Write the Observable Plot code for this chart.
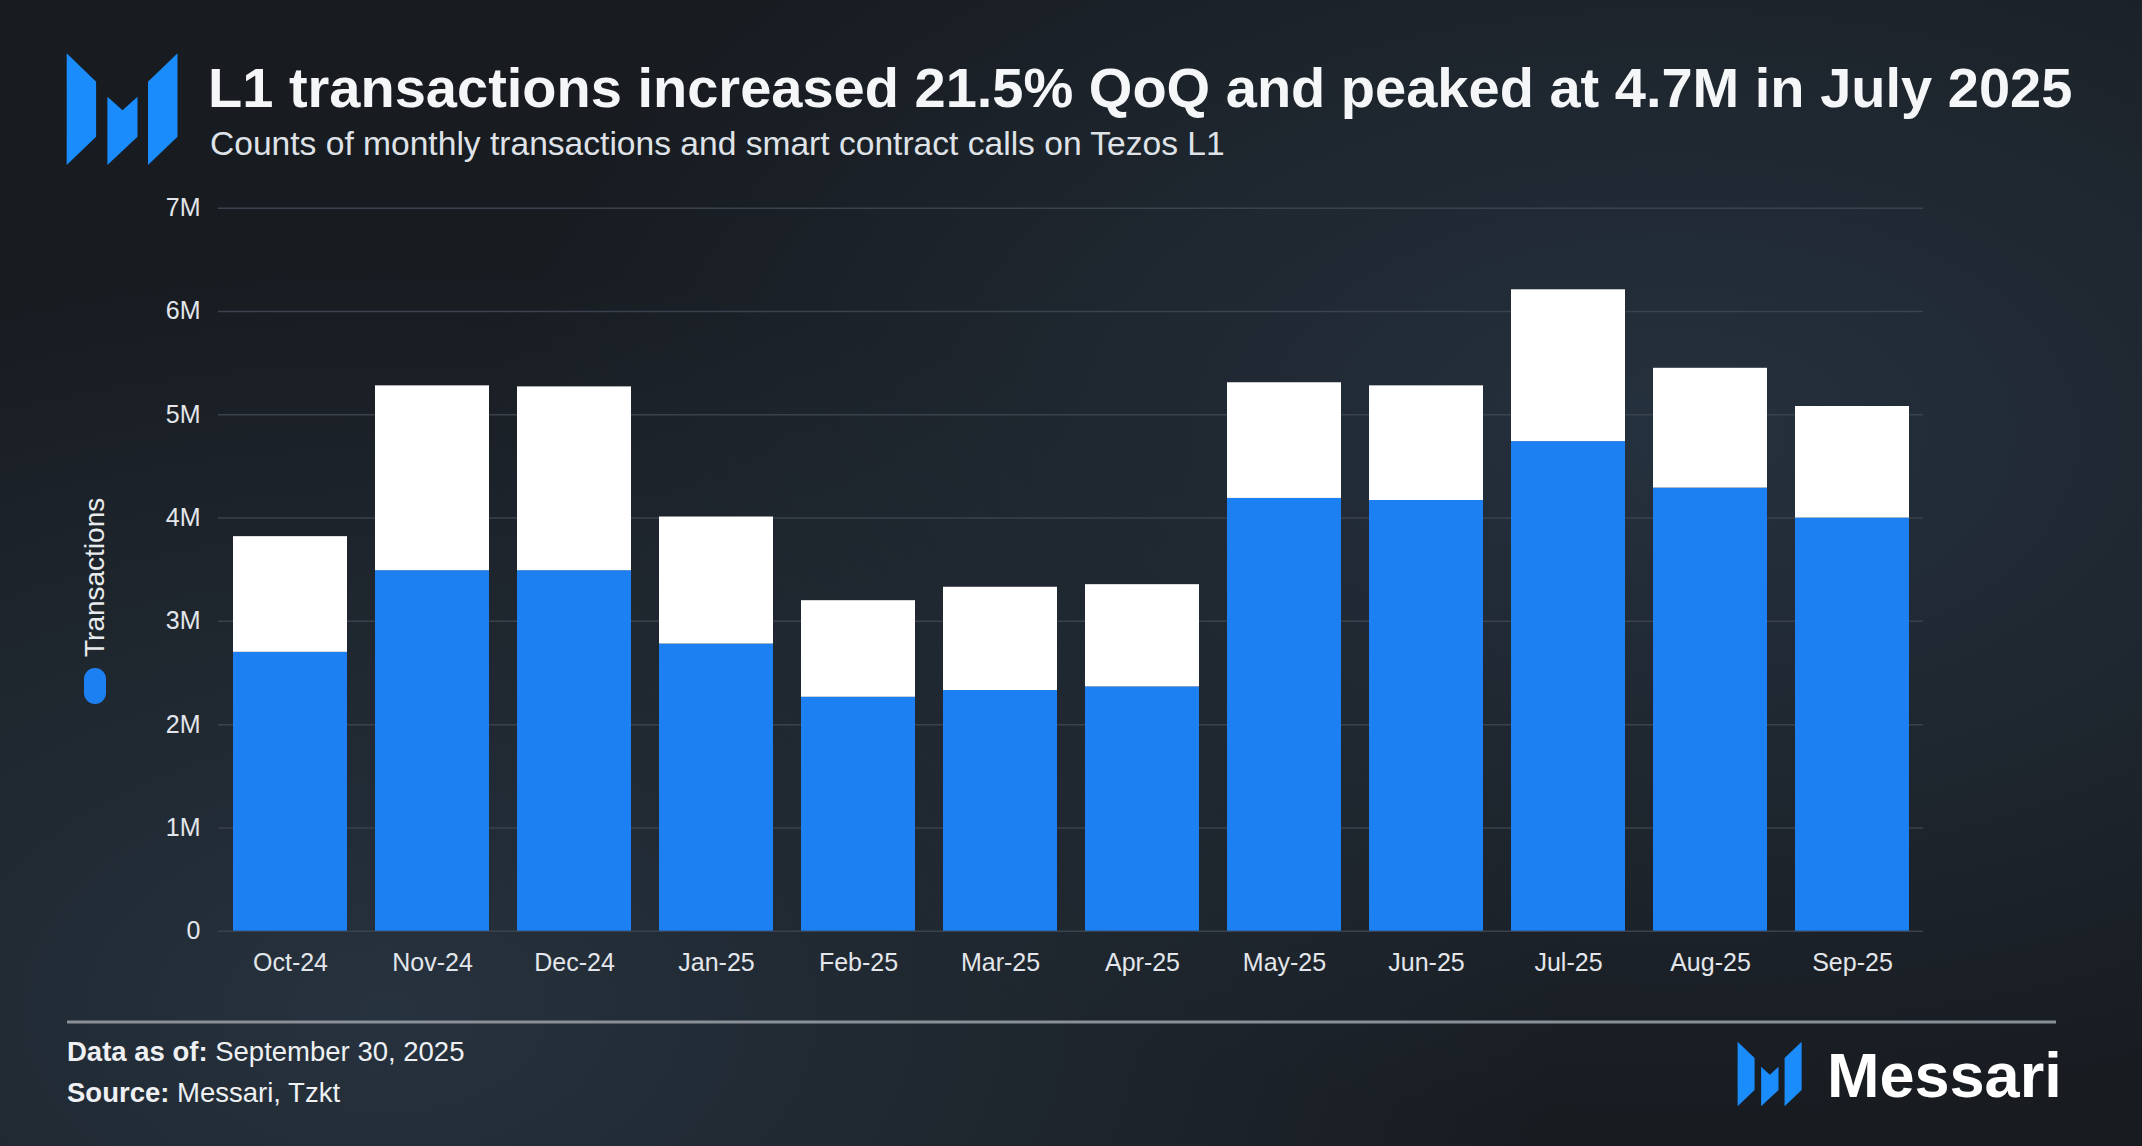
<!DOCTYPE html>
<html>
<head>
<meta charset="utf-8">
<script src="https://cdn.jsdelivr.net/npm/d3@7"></script>
<script src="https://cdn.jsdelivr.net/npm/@observablehq/plot@0.6"></script>
<style>
  html, body { margin: 0; padding: 0; }
  body {
    width: 2142px; height: 1146px; overflow: hidden; position: relative;
    font-family: "Liberation Sans", Arial, sans-serif;
    background:
      radial-gradient(ellipse 55% 65% at 18% 88%, rgba(38,50,62,1) 0%, rgba(38,50,62,0) 100%),
      radial-gradient(ellipse 55% 60% at 78% 38%, rgba(37,49,62,1) 0%, rgba(37,49,62,0) 100%),
      #181c21;
  }
  #deco { position: absolute; left: 0; top: 0; }
  #chart { position: absolute; left: 0; top: 150px; }
</style>
</head>
<body>
<svg id="deco" width="2142" height="1146" font-family="Liberation Sans, Arial, sans-serif">
  <defs>
    <g id="mark" fill="#1a8cfb">
      <polygon points="0,0 29.4,28.4 29.4,83.4 0,111.7"/>
      <polygon points="40.7,43.4 55.8,57 70.8,43.4 70.8,83.4 40.7,111.7"/>
      <polygon points="81.3,28.4 110.8,0 110.8,83.4 81.3,111.7"/>
    </g>
  </defs>
  <use href="#mark" transform="translate(66.7,53.3)"/>
  <text x="208" y="106.7" font-size="56" font-weight="bold" fill="#f4f6f8">L1 transactions increased 21.5% QoQ and peaked at 4.7M in July 2025</text>
  <text x="210" y="155" font-size="33.6" fill="#dfe3e8">Counts of monthly transactions and smart contract calls on Tezos L1</text>
  <rect x="84" y="668" width="22" height="36" rx="11" fill="#1d80f2"/>
  <text transform="translate(104,657) rotate(-90)" font-size="28" fill="#e8ebee">Transactions</text>
  <line x1="67" x2="2056" y1="1022" y2="1022" stroke="#8a9097" stroke-width="3"/>
  <text x="67" y="1061" font-size="27.5" fill="#eef0f3"><tspan font-weight="bold">Data as of:</tspan> September 30, 2025</text>
  <text x="67" y="1102" font-size="27.5" fill="#eef0f3"><tspan font-weight="bold">Source:</tspan> Messari, Tzkt</text>
  <use href="#mark" transform="translate(1737.6,1041.7) scale(0.578)"/>
  <text x="1827" y="1097" font-size="63" font-weight="bold" fill="#ffffff">Messari</text>
</svg>
<div id="chart"></div>
<script>
const months = ["Oct-24","Nov-24","Dec-24","Jan-25","Feb-25","Mar-25","Apr-25","May-25","Jun-25","Jul-25","Aug-25","Sep-25"];
const transactions = [2700000, 3490000, 3490000, 2780000, 2265000, 2330000, 2365000, 4190000, 4170000, 4740000, 4290000, 4000000];
const contractCalls = [1120000, 1790000, 1780000, 1230000, 935000, 1000000, 990000, 1120000, 1110000, 1470000, 1160000, 1080000];
const seriesNames = ["Transactions", "Smart contract calls"];
const seriesColors = ["#1d80f2", "#ffffff"];
const yTicks = [0, 1000000, 2000000, 3000000, 4000000, 5000000, 6000000, 7000000];

const rows = [];
months.forEach((m, i) => {
  rows.push({month: m, series: seriesNames[0], value: transactions[i]});
  rows.push({month: m, series: seriesNames[1], value: contractCalls[i]});
});

const chart = Plot.plot({
  width: 1960,
  height: 840,
  marginTop: 57.7,
  marginBottom: 59.3,
  marginLeft: 218,
  marginRight: 37,
  style: {background: "transparent", color: "#e3e6ea", fontFamily: "Liberation Sans, Arial, sans-serif", fontSize: "25px"},
  x: {domain: months, paddingInner: 0.2, paddingOuter: 0.1, label: null},
  y: {domain: [0, 7000000], label: null},
  color: {domain: seriesNames, range: seriesColors},
  marks: [
    Plot.gridY(yTicks, {stroke: "#3a424d", strokeOpacity: 1, strokeWidth: 1.5}),
    Plot.barY(rows, {x: "month", y: "value", fill: "series"}),
    Plot.axisY({ticks: yTicks, tickSize: 0, tickPadding: 18, tickFormat: d => d === 0 ? "0" : (d / 1e6) + "M", label: null}),
    Plot.axisX({tickSize: 0, tickPadding: 22, label: null})
  ]
});
document.getElementById("chart").appendChild(chart);
</script>
</body>
</html>
